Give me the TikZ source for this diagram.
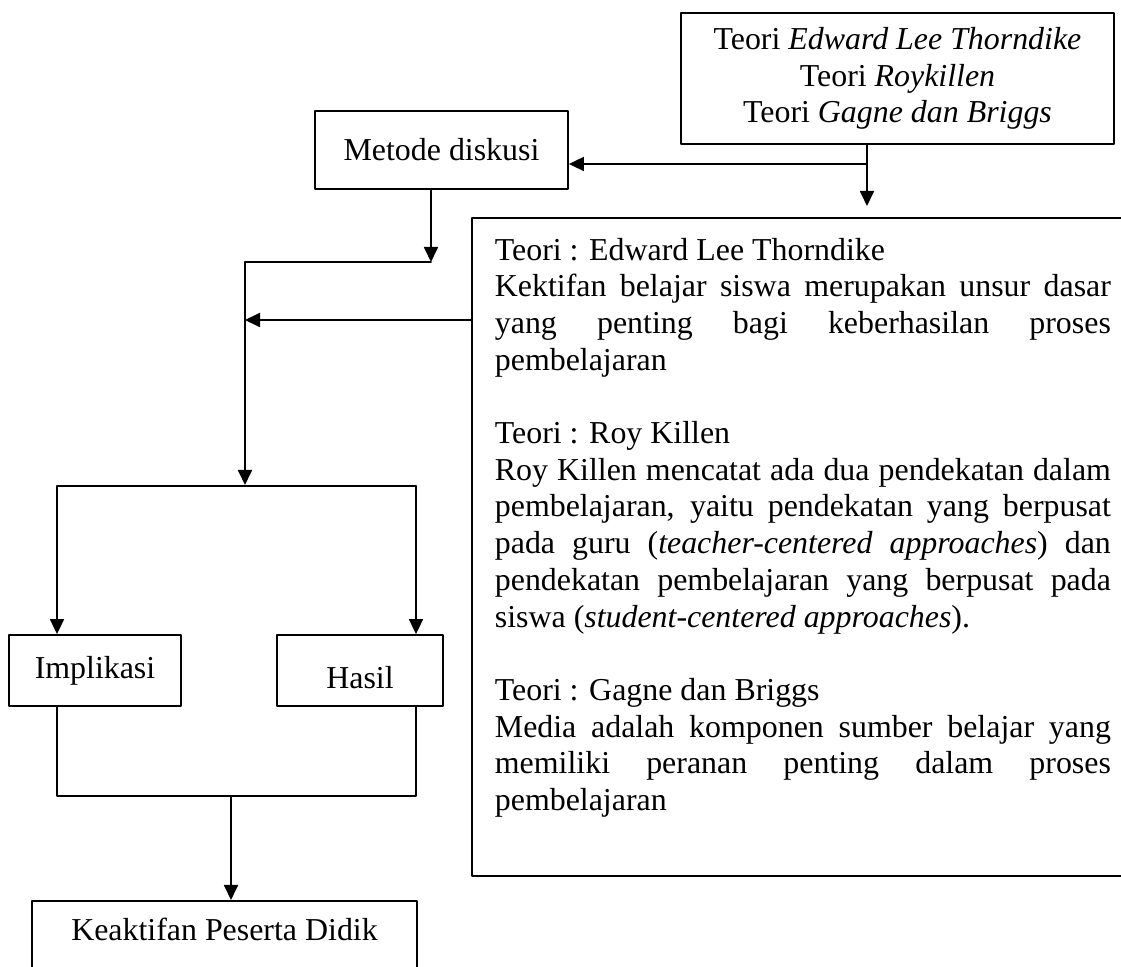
\documentclass[tikz,border=0pt]{standalone}
\usepackage{fontspec}
\setmainfont{Liberation Serif}
\usetikzlibrary{arrows.meta}

\begin{document}
\begin{tikzpicture}[line cap=round,line join=round,>={Triangle[length=7.5pt,width=7pt]},x=0.5pt,y=-0.5pt,
  line width=0.9pt,
  every node/.style={font=\fontsize{15.95}{18.35}\selectfont},
  box/.style={draw,rectangle,inner sep=0pt}]
\useasboundingbox (0,0) rectangle (1121,967);
\clip (0,0) rectangle (1121,967);
\node[box,minimum width=216.5pt,minimum height=65.5pt,align=center] (teori) at (897.5,78.5) {Teori \textit{Edward Lee Thorndike}\\Teori \textit{Roykillen}\\Teori \textit{Gagne dan Briggs}};
\node[box,minimum width=126.5pt,minimum height=39pt] (metode) at (441.5,150) {Metode diskusi};
\node[inner sep=0pt,minimum width=333.5pt,minimum height=328pt] (frame) at (806.5,547) {};
\draw (frame.north east) -- (frame.north west) -- (frame.south west) -- (frame.south east);
\node[anchor=north west,inner sep=0pt,text width=308pt,align=justify] (isi) at (494,237) {Teori : Edward Lee Thorndike\\
Kektifan belajar siswa merupakan unsur dasar\linebreak
yang penting bagi keberhasilan proses\linebreak
pembelajaran\\[18.35pt]
Teori : Roy Killen\\
Roy Killen mencatat ada dua pendekatan dalam\linebreak
pembelajaran, yaitu pendekatan yang berpusat\linebreak
pada guru (\textit{teacher-centered approaches}) dan\linebreak
pendekatan pembelajaran yang berpusat pada\linebreak
siswa (\textit{student-centered approaches}).\\[18.35pt]
Teori : Gagne dan Briggs\\
Media adalah komponen sumber belajar yang\linebreak
memiliki peranan penting dalam proses\linebreak
pembelajaran};
\node[box,minimum width=86pt,minimum height=35.5pt] (impl) at (95,670.5) {Implikasi};
\node[box,minimum width=83pt,minimum height=35.5pt,text height=18pt,text depth=0pt] (hasil) at (360,670.5) {Hasil};
\node[box,anchor=north,minimum width=192.5pt,inner ysep=2.5pt,text height=17.5pt,text depth=20pt] (keak) at (224.5,900) {Keaktifan Peserta Didik};
% teori ke metode
\coordinate (a1) at (867,164);
\coordinate (a2) at (867,206);
\draw[->] (teori.south -| a1) -- (a2);
\draw[->] (a1) -- (metode.east |- a1);
% metode ke bawah
\coordinate (b1) at (431,262);
\coordinate (b2) at (245,262);
\coordinate (b3) at (245,485);
\draw[->] (metode.south -| b1) -- (b1);
\draw[->] (b1) -- (b2) -- (b3);
\coordinate (c1) at (245,320);
\draw[->] (frame.west |- c1) -- (c1);
% cabang
\coordinate (d1) at (57,486);
\coordinate (d2) at (416,486);
\draw (d1) -- (d2);
\draw[->] (d1) -- (impl.north -| d1);
\draw[->] (d2) -- (hasil.north -| d2);
\coordinate (e1) at (231,796);
\draw (impl.south -| d1) |- (e1) -| (hasil.south -| d2);
\draw[->] (e1) -- (keak.north -| e1);
\end{tikzpicture}
\end{document}
